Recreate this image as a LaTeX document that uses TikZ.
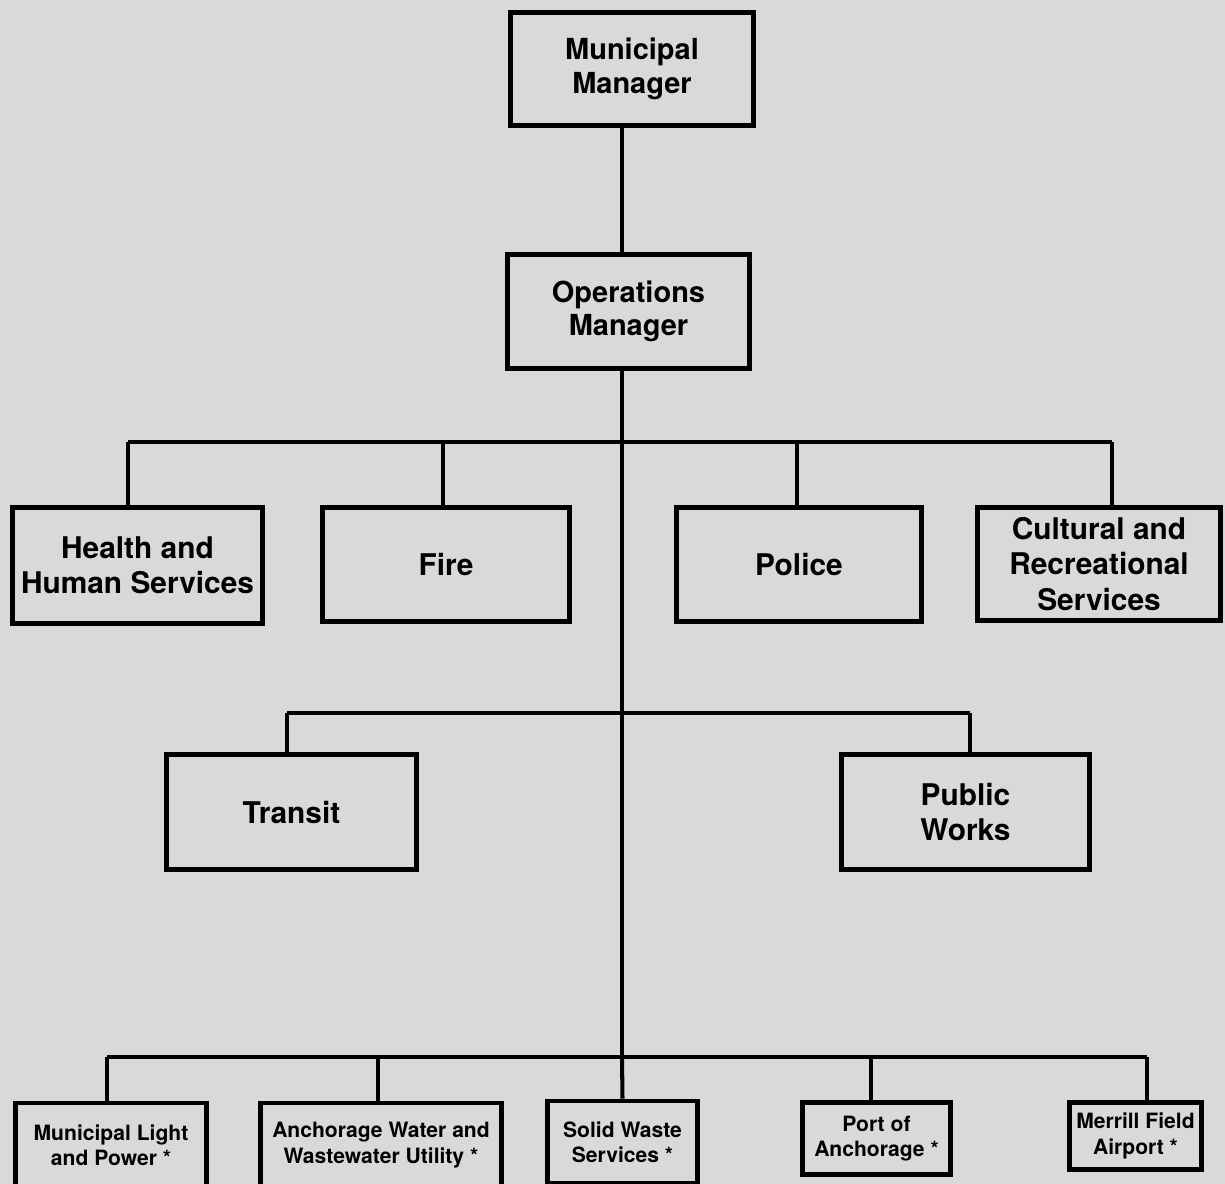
\documentclass[tikz,border=0pt]{standalone}
\usepackage{fontspec}
\setmainfont{TeX Gyre Heros}
\tikzset{
	unitbox/.style={draw, line width=2.6pt, align=center, inner sep=2pt, font=\bfseries\fontsize{17pt}{20pt}\selectfont},
	topbox/.style={unitbox, font=\bfseries\fontsize{16.5pt}{19pt}\selectfont},
	smallbox/.style={unitbox, font=\bfseries\fontsize{12pt}{14.4pt}\selectfont},
	wire/.style={line width=2.3pt}
}
\begin{document}
\begin{tikzpicture}[x=0.02cm, y=-0.02cm]
	\fill[gray!30] (0,0) rectangle (1225,1184); % background
\useasboundingbox (0,0) rectangle (1225,1184);
\clip (0,0) rectangle (1225,1184);
\node[topbox, minimum width=4.86cm, minimum height=2.26cm] (mm) at (632,69) {Municipal\\Manager}; % Level.0
\node[topbox, minimum width=4.84cm, minimum height=2.28cm] (opm) at (628.5,311.5) {Operations\\Manager}; % Level.1
\node[unitbox, minimum width=5.00cm, minimum height=2.32cm] (hhs) at (137.5,565.5) {Health and\\Human Services}; % Dept.0
\node[unitbox, minimum width=4.94cm, minimum height=2.28cm] (fire) at (446,564.5) {Fire}; % Dept.1
\node[unitbox, minimum width=4.90cm, minimum height=2.28cm] (police) at (799,564.5) {Police}; % Dept.2
\node[unitbox, minimum width=4.86cm, minimum height=2.26cm] (cult) at (1099,564) {Cultural and\\Recreational\\Services}; % Dept.3
\node[unitbox, minimum width=5.00cm, minimum height=2.30cm] (transit) at (291.5,812) {Transit}; % Dept.4
\node[unitbox, minimum width=4.96cm, minimum height=2.30cm] (pw) at (965.5,812) {Public\\Works}; % Dept.5
\node[smallbox, minimum width=3.82cm, minimum height=1.68cm] (light) at (111,1145) {Municipal Light\\and Power *}; % Utility.0
\node[smallbox, minimum width=4.82cm, minimum height=1.68cm] (water) at (381,1145) {Anchorage Water and\\Wastewater Utility *}; % Utility.1
\node[smallbox, minimum width=3.00cm, minimum height=1.64cm] (waste) at (622.5,1142) {Solid Waste\\Services *}; % Utility.2
\node[smallbox, minimum width=2.96cm, minimum height=1.44cm] (port) at (876.5,1138.5) {Port of\\Anchorage *}; % Utility.3
\node[smallbox, minimum width=2.64cm, minimum height=1.34cm] (airport) at (1135.5,1136) {Merrill Field\\Airport *}; % Utility.4
\coordinate (b-hhs) at (128,442); % bus.0
\coordinate (b-fire) at (443,442);
\coordinate (b-police) at (797,442);
\coordinate (b-cult) at (1112,442);
\coordinate (b-transit) at (287,713); % bus.1
\coordinate (b-pw) at (970,713);
\coordinate (b-light) at (107,1057); % bus.2
\coordinate (b-water) at (378,1057);
\coordinate (b-waste) at (622,1057);
\coordinate (b-port) at (871,1057);
\coordinate (b-airport) at (1147,1057);
\draw[wire] (mm.south -| b-waste) -- (opm.north -| b-waste) ; % mm to opm
\draw[wire] (opm.south -| b-waste) -- (b-waste) ; % trunk
\draw[wire] (b-hhs) -- (b-cult) ;
\draw[wire] (b-transit) -- (b-pw) ;
\draw[wire] (b-light) -- (b-airport) ;
\draw[wire] (b-hhs) -- (b-hhs |- hhs.north) ;
\draw[wire] (b-fire) -- (b-fire |- fire.north) ;
\draw[wire] (b-police) -- (b-police |- police.north) ;
\draw[wire] (b-cult) -- (b-cult |- cult.north) ;
\draw[wire] (b-transit) -- (b-transit |- transit.north) ;
\draw[wire] (b-pw) -- (b-pw |- pw.north) ;
\draw[wire] (b-light) -- (b-light |- light.north) ;
\draw[wire] (b-water) -- (b-water |- water.north) ;
\draw[wire] (b-waste) -- (waste.north) ;
\draw[wire] (b-port) -- (b-port |- port.north) ;
\draw[wire] (b-airport) -- (b-airport |- airport.north) ;

	\end{tikzpicture}
\end{document}
